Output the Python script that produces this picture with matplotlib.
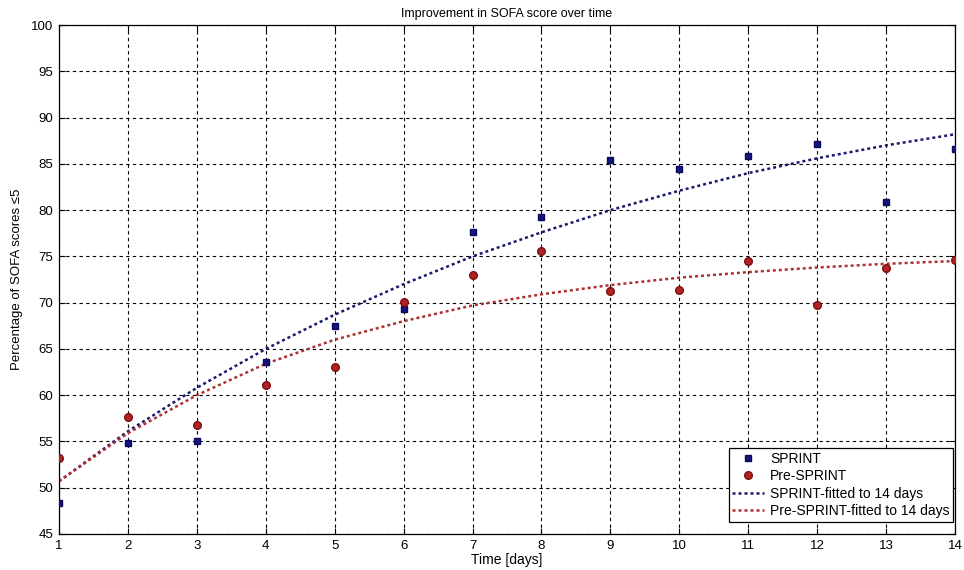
import matplotlib
matplotlib.use("Agg")
import matplotlib.pyplot as plt

plt.rcParams['font.family'] = ['Liberation Sans', 'DejaVu Sans']

days = [1, 2, 3, 4, 5, 6, 7, 8, 9, 10, 11, 12, 13, 14]
sprint = [48.3, 54.8, 55.0, 63.6, 67.5, 69.3, 77.6, 79.3, 85.4, 84.4, 85.8, 87.2, 80.9, 86.6]
pre_sprint = [53.2, 57.6, 56.8, 61.1, 63.1, 70.1, 73.0, 75.6, 71.3, 71.4, 74.5, 69.7, 73.7, 74.6]
sprint_fit = [50.7, 56.1, 60.8, 65.0, 68.7, 72.0, 75.0, 77.6, 80.0, 82.1, 84.0, 85.6, 87.0, 88.2]
pre_fit = [50.7, 55.9, 60.0, 63.4, 66.0, 68.0, 69.7, 70.9, 71.9, 72.7, 73.3, 73.8, 74.2, 74.5]
yticks = list(range(45, 101, 5))

fig = plt.figure(figsize=(9.64, 5.70), dpi=100)
ax = fig.add_axes([0.0612, 0.0632, 0.9295, 0.8928])

blue = '#14147a'
red = '#b22222'
ax.plot(days, sprint, 's', color=blue, markersize=5, markeredgecolor='#0a0a60', label='SPRINT', zorder=3)
ax.plot(days, pre_sprint, 'o', color=red, markersize=5.5, markeredgecolor='#7a1010', label='Pre-SPRINT', zorder=3)
ax.plot(days, sprint_fit, linestyle=(0, (1.2, 1.2)), color='#1a1a6e', linewidth=1.8, label='SPRINT-fitted to 14 days', zorder=2)
ax.plot(days, pre_fit, linestyle=(0, (1.2, 1.2)), color='#b03030', linewidth=1.8, label='Pre-SPRINT-fitted to 14 days', zorder=2)

ax.set_xlim(1, 14)
ax.set_ylim(45, 100)
ax.set_xticks(days)
ax.set_yticks(yticks)
ax.grid(True, color='black', linestyle=(0, (3, 3)), linewidth=0.8)
ax.tick_params(direction='in', top=True, right=True, labelsize=9.5, length=4, pad=4)
for s in ax.spines.values():
    s.set_linewidth(0.9)

ax.set_title('Improvement in SOFA score over time', fontsize=9, pad=6)
ax.set_xlabel('Time [days]', fontsize=10, labelpad=1)
ax.set_ylabel('Percentage of SOFA scores \u22645', fontsize=9.5, labelpad=6)

leg = ax.legend(loc='lower right', fontsize=10, fancybox=False, framealpha=1,
                edgecolor='black', borderpad=0.25, labelspacing=0.25, handlelength=2.3,
                handletextpad=0.4, borderaxespad=0.15, bbox_to_anchor=(1.0, 0.02))
leg.get_frame().set_linewidth(0.9)

fig.savefig('out.png', dpi=100)
